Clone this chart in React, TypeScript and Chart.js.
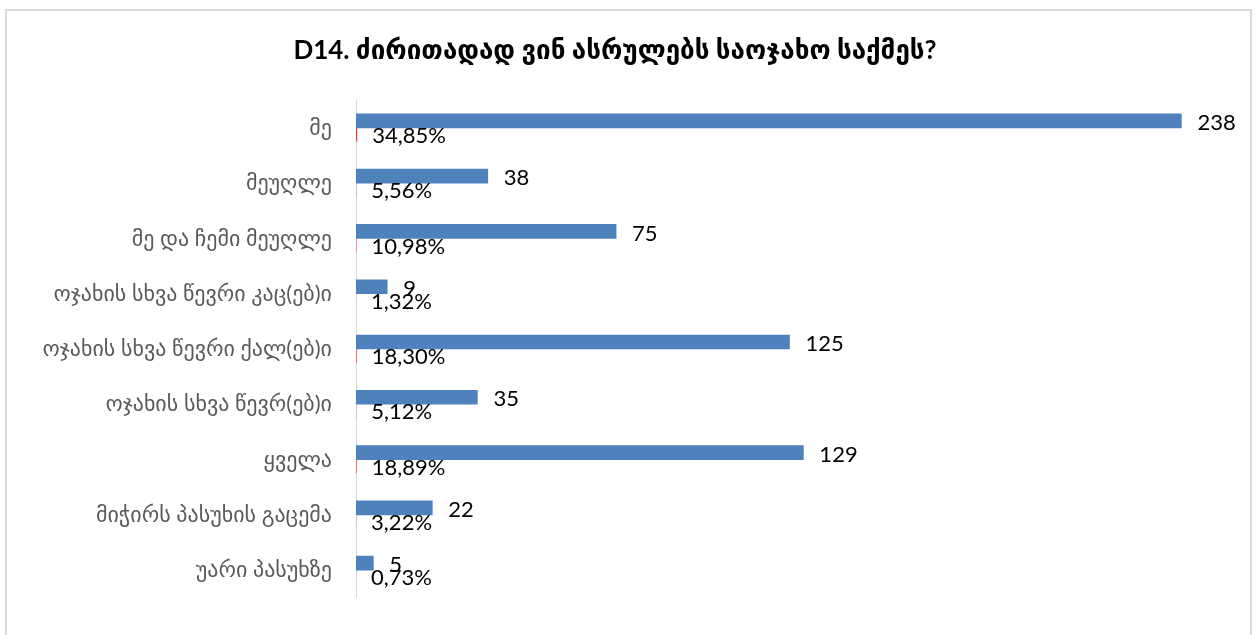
import React, { useEffect, useRef } from "react";
import { Chart, registerables } from "chart.js";

Chart.register(...registerables);

const titleText = "D14. ძირითადად ვინ ასრულებს საოჯახო საქმეს?";
const categories = [
  "მე",
  "მეუღლე",
  "მე და ჩემი მეუღლე",
  "ოჯახის სხვა წევრი კაც(ებ)ი",
  "ოჯახის სხვა წევრი ქალ(ებ)ი",
  "ოჯახის სხვა წევრ(ებ)ი",
  "ყველა",
  "მიჭირს პასუხის გაცემა",
  "უარი პასუხზე",
];
const counts = [238, 38, 75, 9, 125, 35, 129, 22, 5];
const percents = [34.85, 5.56, 10.98, 1.32, 18.3, 5.12, 18.89, 3.22, 0.73];
const percentShares = percents.map((p) => p / 100);

const LABEL_FONT = "22px Lato, 'DejaVu Sans', sans-serif";

const labelPlugin = {
  id: "barLabels",
  afterDatasetsDraw(chart: any) {
    const ctx = chart.ctx;
    ctx.save();
    ctx.font = LABEL_FONT;
    ctx.fillStyle = "#000000";
    ctx.textAlign = "left";
    ctx.textBaseline = "middle";
    const m0 = chart.getDatasetMeta(0);
    const m1 = chart.getDatasetMeta(1);
    m0.data.forEach((bar: any, i: number) => {
      ctx.fillText(String(counts[i]), bar.x + 16, bar.y + 2);
    });
    m1.data.forEach((bar: any, i: number) => {
      ctx.fillText(percents[i].toFixed(2).replace(".", ",") + "%", bar.x + 15, bar.y + 1);
    });
    ctx.restore();
  },
};

export default function App() {
  const ref = useRef<HTMLCanvasElement | null>(null);
  useEffect(() => {
    if (!ref.current) return;
    const chart = new Chart(ref.current, {
      type: "bar",
      data: {
        labels: categories,
        datasets: [
          { data: counts, backgroundColor: "#4F81BD", barThickness: 14 },
          { data: percentShares, backgroundColor: "#C0504D", barThickness: 14, inflateAmount: 0 },
        ],
      },
      options: {
        indexAxis: "y",
        animation: false,
        responsive: true,
        maintainAspectRatio: false,
        layout: { padding: { top: 0, bottom: 21, left: 0, right: 27 } },
        plugins: {
          legend: { display: false },
          tooltip: { enabled: false },
          title: {
            display: true,
            text: titleText,
            color: "#000000",
            font: { family: "Lato, 'DejaVu Sans', sans-serif", size: 26, weight: "bold" },
            padding: { top: 24, bottom: 34 },
          },
        },
        scales: {
          x: {
            display: false,
            min: 0,
            max: 250,
          },
          y: {
            grid: { display: false, drawTicks: false },
            border: { display: true, color: "#D9D9D9", width: 1 },
            ticks: {
              color: "#595959",
              padding: 24,
              font: { family: "Lato, 'DejaVu Sans', sans-serif", size: 22 },
            },
            afterFit(scale: any) {
              scale.width = 349;
            },
          },
        },
      },
      plugins: [labelPlugin],
    });
    return () => chart.destroy();
  }, []);

  return (
    <div
      style={{
        position: "absolute",
        left: 5,
        top: 9,
        width: 1247,
        height: 626,
        borderTop: "2px solid #D9D9D9",
        borderLeft: "2px solid #D9D9D9",
        borderRight: "2px solid #D9D9D9",
        boxSizing: "border-box",
        background: "#fff",
      }}
    >
      <canvas ref={ref} />
    </div>
  );
}
